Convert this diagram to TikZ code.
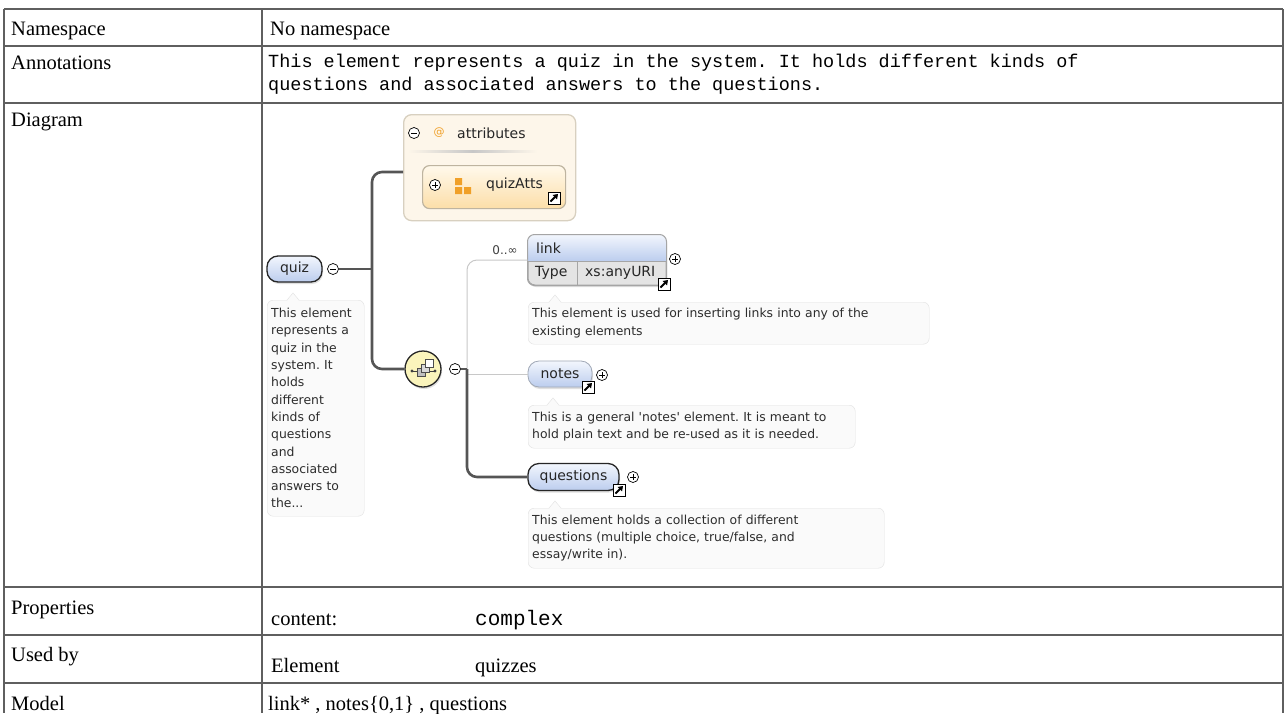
\documentclass[tikz,border=0pt]{standalone}
\usepackage{fontspec}
\setmainfont{Liberation Serif}
\setmonofont{Liberation Mono}
\newfontfamily\dvs{DejaVu Sans}
\usetikzlibrary{calc,shadows,arrows.meta}
\frenchspacing
\definecolor{tblLine}{RGB}{95,95,95}
\definecolor{pillTop}{RGB}{242,246,253}
\definecolor{pillBot}{RGB}{188,205,238}
\definecolor{descFill}{RGB}{250,250,250}
\definecolor{descLine}{RGB}{225,225,225}
\definecolor{descText}{RGB}{45,45,45}
\definecolor{reqLine}{RGB}{85,85,85}
\definecolor{optLine}{RGB}{200,200,200}
\definecolor{attrFill}{RGB}{253,246,234}
\definecolor{attrLine}{RGB}{216,208,192}
\definecolor{attsTop}{RGB}{255,249,236}
\definecolor{attsBot}{RGB}{252,222,168}
\definecolor{attsLine}{RGB}{190,180,160}
\definecolor{attrOrange}{RGB}{240,160,40}
\definecolor{seqFill}{RGB}{250,244,188}
\definecolor{linkLine}{RGB}{165,165,165}
\definecolor{linkBody}{RGB}{228,228,228}
\definecolor{optBorder}{RGB}{160,168,182}
\newcommand{\dnotch}[2]{%
  \fill[descFill] ($(#1.north west)+(#2-6,1)$) -- ($(#1.north west)+(#2,-7)$) -- ($(#1.north west)+(#2+6,1)$) -- cycle;
  \draw[descLine] ($(#1.north west)+(#2-6,0)$) -- ($(#1.north west)+(#2,-7)$) -- ($(#1.north west)+(#2+6,0)$);}
\begin{document}
\begin{tikzpicture}[x=1pt,y=-1pt,
  tbl/.style={draw=tblLine, line width=1.3pt},
  tlabel/.style={font=\fontsize{20.5}{24}\selectfont, anchor=base west, inner sep=0},
  tmono/.style={font=\ttfamily\fontsize{18.5}{23}\selectfont, anchor=west, inner sep=0, align=left},
  nlabel/.style={font=\dvs\fontsize{14}{16}\selectfont, inner sep=0, text=black!85},
  pill/.style={rounded corners=11pt, draw=black!85, line width=1.3pt, top color=pillTop, bottom color=pillBot,
    minimum height=26pt, inner sep=0, font=\dvs\fontsize{14}{16}\selectfont, text=black!85,
    drop shadow={shadow xshift=1pt, shadow yshift=-2pt, opacity=0.25}},
  desc/.style={draw=descLine, fill=descFill, rounded corners=6pt, inner xsep=4pt, inner ysep=0, align=left,
    font=\dvs\fontsize{12.4}{17.3}\selectfont, text=descText},
  linkbox/.style={draw=linkLine, fill=linkBody, rounded corners=7pt, line width=1pt, minimum width=138pt,
    minimum height=50pt, inner sep=0, drop shadow={shadow xshift=1pt, shadow yshift=-2pt, opacity=0.25}},
  attrbox/.style={draw=attrLine, fill=attrFill, rounded corners=8pt, line width=1.3pt, inner sep=0},
  attsbox/.style={draw=attsLine, top color=attsTop, bottom color=attsBot, rounded corners=7pt, line width=1.2pt, inner sep=0},
  seqc/.style={circle, draw=black!85, line width=1.3pt, fill=seqFill, minimum size=36pt, inner sep=0,
    drop shadow={shadow xshift=1pt, shadow yshift=-2pt, opacity=0.25}},
  req/.style={draw=reqLine, line width=2.6pt},
  opt/.style={draw=optLine, line width=1pt},
  pm/.style={circle, draw=black, fill=white, line width=0.7pt, minimum size=11pt, inner sep=0},
  pmminus/.style={pm, path picture={\draw[line width=0.8pt] ([xshift=-2.8pt]path picture bounding box.center) -- ([xshift=2.8pt]path picture bounding box.center);}},
  pmplus/.style={pm, path picture={\draw[line width=0.8pt] ([xshift=-2.8pt]path picture bounding box.center) -- ([xshift=2.8pt]path picture bounding box.center) ([yshift=-2.8pt]path picture bounding box.center) -- ([yshift=2.8pt]path picture bounding box.center);}},
  arrowicon/.style={draw=black, fill=white, line width=0.9pt, minimum size=12pt, inner sep=0,
    path picture={\draw[line width=1.8pt, -{Triangle[length=4.5pt,width=6pt]}] ([shift={(2.5pt,2.5pt)}]path picture bounding box.south west) -- ([shift={(-2pt,-2pt)}]path picture bounding box.north east);}}
]
\useasboundingbox (0,0) rectangle (1286,713);
\fill[white] (0,0) rectangle (1286,713);

% ---------- table ----------
\foreach \yy in {9,46,103,587,635,683} \draw[tbl] (4,\yy) -- (1283,\yy);
\foreach \xx in {4,262,1283} \draw[tbl] (\xx,9) -- (\xx,713);

\node[tlabel] (ns) at (11,35) {Namespace};
\node[tlabel] (nsv) at (270,35) {No namespace};
\node[tlabel] (an) at (11,69) {Annotations};
\node[tmono] (anv) at (268,74.5) {This element represents a quiz in the system. It holds different kinds of\\questions and associated answers to the questions.};
\node[tlabel] (dg) at (11,126) {Diagram};
\node[tlabel] (pr) at (11,614) {Properties};
\node[tlabel] (prk) at (271,625) {content:};
\node[tlabel, font=\ttfamily\fontsize{21}{24}\selectfont] (prv) at (475,625) {complex};
\node[tlabel] (ub) at (11,661) {Used by};
\node[tlabel] (ubk) at (271,672) {Element};
\node[tlabel] (ubv) at (475,672) {quizzes};
\node[tlabel] (md) at (11,710) {Model};
\node[tlabel] (mdv) at (268,710) {link* , notes\{0,1\} , questions};

% ---------- attributes ----------
\node[attrbox, anchor=north west, minimum width=172pt, minimum height=106pt] (attr) at (403,114) {};
\node[pmminus] (am) at (414,133) {};
\node[font=\dvs\fontsize{11}{12}\selectfont, text=attrOrange, inner sep=0] (at) at (439,133) {@};
\node[nlabel, anchor=west] (attrt) at (457,133) {attributes};
\shade[left color=attrFill, right color=attrFill, middle color=black!22] (408,150.5) rectangle (537,152);
\node[attsbox, anchor=north west, minimum width=143pt, minimum height=43pt] (atts) at (422,165) {};
\node[pmplus] (atp) at (435,185) {};
\fill[attrOrange] (455,178) rectangle (462,185) (455,187) rectangle (462,194) (464,187) rectangle (471,194);
\node[nlabel, anchor=west] (attst) at (486,185) {quizAtts};
\node[arrowicon] (atta) at (554,198) {};

% ---------- quiz ----------
\node[pill, minimum width=55pt] (quiz) at (294.5,269) {quiz};
\node[pmminus] (qm) at (333,269) {};
\node[desc, anchor=north west, text width=89pt, minimum height=216pt] (quizdesc) at (267,300)
  {This element\\represents a\\quiz in the\\system. It\\holds\\different\\kinds of\\questions\\and\\associated\\answers to\\the...};
\dnotch{quizdesc}{26}

% ---------- sequence ----------
\node[seqc] (seq) at (423,369) {};
\draw[black!75, line width=0.9pt] ($(seq)+(-11,2)$) -- ($(seq)+(12,2)$);
\fill[black!75] ($(seq)+(-11,2)$) circle (1.7) ($(seq)+(12,2)$) circle (1.7);
\draw[black!70, fill=black!25, line width=0.8pt] ($(seq)+(-6,-1)$) rectangle ($(seq)+(2,7)$);
\draw[black!70, fill=black!15, line width=0.8pt] ($(seq)+(-2,-5)$) rectangle ($(seq)+(6,3)$);
\draw[black!70, fill=white, line width=0.8pt] ($(seq)+(2,-10)$) rectangle ($(seq)+(10,-2)$);
\node[pmminus] (sm) at (455,369) {};

% ---------- link ----------
\node[linkbox] (link) at (597,260) {};
\begin{scope}
  \clip[rounded corners=7pt] (link.south west) rectangle (link.north east);
  \shade[top color=pillTop, bottom color=pillBot] (link.north west) rectangle ($(link.east)+(0,1)$);
\end{scope}
\draw[linkLine] ($(link.west)+(0,1)$) -- ($(link.east)+(0,1)$);
\draw[linkLine] ($(link.south west)+(50,0)$) -- ($(link.west)+(50,1)$);
\draw[linkLine, line width=1pt, rounded corners=7pt] (link.south west) rectangle (link.north east);
\node[nlabel, anchor=west] (linkt) at (536,248) {link};
\node[nlabel, anchor=west] (typet) at (535,273) {Type};
\node[nlabel, anchor=west] (urit) at (585,273) {xs:anyURI};
\node[pmplus] (lp) at (675,259) {};
\node[arrowicon] (la) at (664,284) {};
\node[font=\dvs\fontsize{12}{14}\selectfont, text=black!75, inner sep=0] (card) at (505,250) {0..∞};
\node[desc, anchor=north west, text width=393pt, minimum height=42pt] (linkdesc) at (528,302)
  {This element is used for inserting links into any of the\\existing elements};
\dnotch{linkdesc}{27}

% ---------- notes ----------
\node[pill, draw=optBorder, line width=0.8pt, minimum width=64pt] (notes) at (560,374) {notes};
\node[arrowicon] (na) at (588,387) {};
\node[pmplus] (np) at (602,375) {};
\node[desc, anchor=north west, text width=319pt, minimum height=43pt] (notesdesc) at (528,405)
  {This is a general \textquotesingle notes\textquotesingle\ element. It is meant to\\hold plain text and be re-used as it is needed.};
\dnotch{notesdesc}{25}

% ---------- questions ----------
\node[pill, minimum width=91pt, minimum height=27pt] (questions) at (573.5,477) {questions};
\node[arrowicon] (qa) at (619,490) {};
\node[pmplus] (qp) at (633,477) {};
\node[desc, anchor=north west, text width=348pt, minimum height=60pt] (qdesc) at (528,508)
  {This element holds a collection of different\\questions (multiple choice, true/false, and\\essay/write in).};
\dnotch{qdesc}{27}

% ---------- connectors ----------
\coordinate (trunkx) at (372,0);
\coordinate (jx) at (467,0);
\coordinate (attin) at ($(attr.north west)+(0,58)$);
\draw[req, rounded corners=10pt] (attin) -| (trunkx |- seq.west) -- (seq.west);
\draw[req] (qm.east) -- (qm.east -| trunkx);
\draw[opt, rounded corners=10pt] (jx |- sm.east) |- (link.west);
\draw[opt] (jx |- notes.west) -- (notes.west);
\draw[req] (sm.east) -- (jx |- sm.east);
\draw[req, rounded corners=10pt] (jx |- sm.east) |- (questions.west);
\end{tikzpicture}
\end{document}
